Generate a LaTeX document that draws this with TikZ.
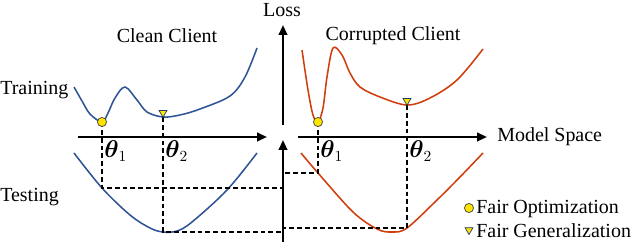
\documentclass[tikz,border=0pt]{standalone}
\usepackage{fontspec}
\setmainfont{Liberation Serif}
\usepackage{amsmath}
\usepackage{tikz}
\usetikzlibrary{arrows.meta,shapes.geometric,positioning,calc}
\definecolor{cleanBlue}  {RGB}{47,  85, 151}
\definecolor{corruptRed} {RGB}{208, 62,  14}
\definecolor{markYellow} {RGB}{255, 228, 0}

\begin{document}
\begin{tikzpicture}[x=0.025cm,y=-0.025cm,
    lbl/.style={font=\fontsize{14.2}{16}\selectfont,inner sep=0pt},
    thlbl/.style={font=\fontsize{16}{18}\selectfont,inner sep=0pt,anchor=west},
    axisline/.style={line width=1.5pt,-{Triangle[length=7pt,width=6pt]}},
    dashline/.style={dash pattern=on 3.4pt off 2.2pt,line width=0.8pt},
    lossline/.style={line width=1.1pt,smooth,tension=0.55},
    optmark/.style={circle,fill=markYellow,draw=black!75,line width=0.5pt,
                    minimum size=6.5pt,inner sep=0pt},
    genmark/.style={regular polygon,regular polygon sides=3,shape border rotate=180,
                    fill=markYellow,draw=cleanBlue!70!black,line width=0.5pt,
                    minimum size=6.5pt,inner sep=0pt}]

    \useasboundingbox (0,0) rectangle (640,242);

    % ════════ eixos ════════
    \coordinate (yTop)  at (283,25);
    \coordinate (yTop0) at (283,125);
    \coordinate (yBot)  at (283,140);
    \coordinate (yBot0) at (283,245);
    \coordinate (xL0) at (78,137);
    \coordinate (xL1) at (267,137);
    \coordinate (xR0) at (298,137);
    \coordinate (xR1) at (487,137);
    \draw[axisline] (yTop0) -- (yTop);
    \draw[axisline] (yBot0) -- (yBot);
    \draw[axisline] (xL0) -- (xL1);
    \draw[axisline] (xR0) -- (xR1);

    % ════════ textos ════════
    \node[lbl] (lossLbl) at (282,10) {Loss};
    \node[lbl] (cleanLbl) at (167,36) {Clean Client};
    \node[lbl] (corruptLbl) at (393,36) {Corrupted Client};
    \node[lbl,anchor=west] (trainLbl) at (0,90) {Training};
    \node[lbl,anchor=west] (testLbl) at (0,197) {Testing};
    \node[lbl,anchor=west] (spaceLbl) at (497,137) {Model Space};

    % ════════ cliente limpo ════════
    \draw[lossline,cleanBlue] plot coordinates {(74,87) (82,101) (90,114) (102,122)
      (108,113) (115,98) (125,87) (137,100) (147,112) (163,117) (180,115)
      (200,109) (230,96) (245,77) (257,48)};
    \draw[lossline,cleanBlue] plot coordinates {(74,153) (102,188) (130,215)
      (150,228) (163,232) (177,231) (192,222) (227,190) (257,153)};

    \coordinate (t1L) at (102,188);
    \coordinate (t2L) at (163,232);
    \draw[dashline] (102,122) -- (t1L) -- (t1L -| yBot);
    \draw[dashline] (163,117) -- (t2L) -- (t2L -| yBot);
    \node[optmark] (opt1) at (102,122) {};
    \node[genmark,anchor=corner 1] (gen1) at (163,118) {};
    \node[thlbl] (th1L) at (104,151) {$\boldsymbol{\theta}_1$};
    \node[thlbl] (th2L) at (165,151) {$\boldsymbol{\theta}_2$};

    % ════════ cliente corrompido ════════
    \draw[lossline,corruptRed] plot coordinates {(302,50) (308,90) (313,115)
      (318,122) (323,108) (327,77) (333,48) (342,55) (350,73) (360,87)
      (380,97) (407,105) (430,98) (457,80) (483,49)};
    \draw[lossline,corruptRed] plot coordinates {(301,153) (318,173) (353,212)
      (377,229) (392,232) (407,228) (437,200) (460,177) (483,153)};

    \coordinate (t1R) at (318,173);
    \coordinate (t2R) at (407,228);
    \draw[dashline] (318,122) -- (t1R) -- (t1R -| yBot);
    \draw[dashline] (407,105) -- (t2R) -- (t2R -| yBot);
    \node[optmark] (opt2) at (318,122) {};
    \node[genmark,anchor=corner 1] (gen2) at (407,106) {};
    \node[thlbl] (th1R) at (320,151) {$\boldsymbol{\theta}_1$};
    \node[thlbl] (th2R) at (409,151) {$\boldsymbol{\theta}_2$};

    % ════════ legenda ════════
    \node[optmark] (legOpt) at (469,208) {};
    \node[lbl,anchor=west] (legOptLbl) at (476,209) {Fair Optimization};
    \node[genmark] (legGen) at (469,230) {};
    \node[lbl,anchor=west] (legGenLbl) at (476,231) {Fair Generalization};

\end{tikzpicture}
\end{document}
